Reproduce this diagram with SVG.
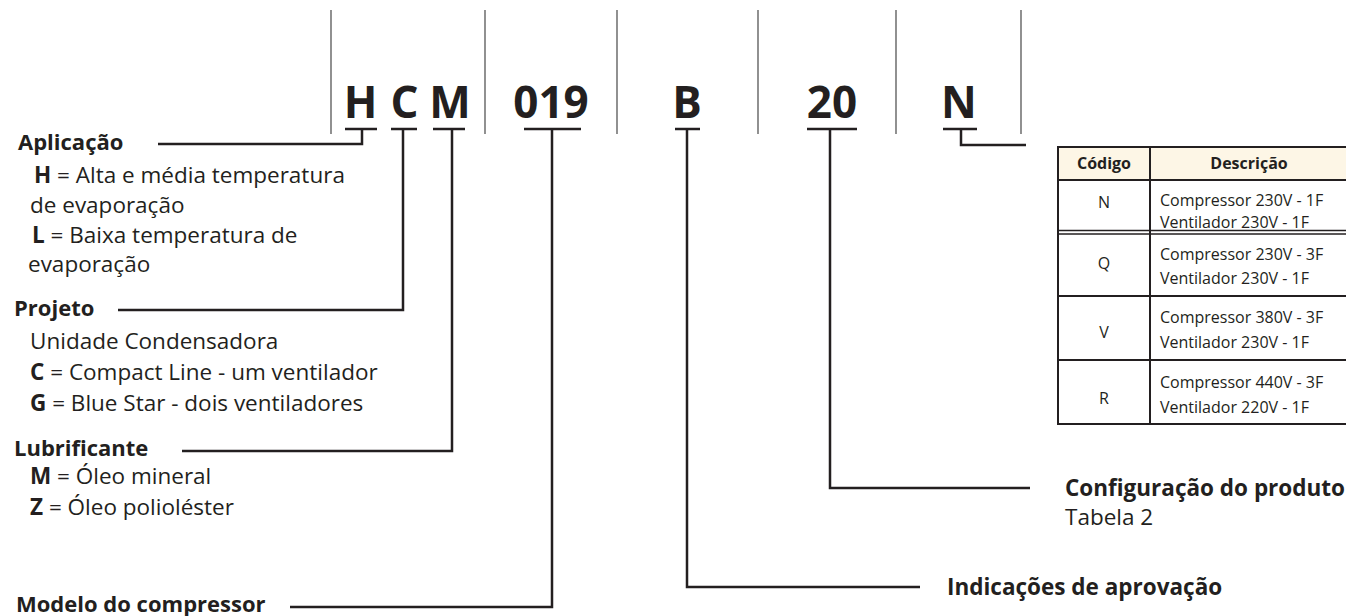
<svg xmlns="http://www.w3.org/2000/svg" width="1346" height="616" viewBox="0 0 1346 616">
<style>
.code{font-family:"Open Sans","Liberation Sans",sans-serif;font-weight:700;font-size:44px;fill:#231f20;text-anchor:middle}
.t{font-family:"Open Sans","Liberation Sans",sans-serif;font-size:22.5px;fill:#231f20}
.b{font-weight:700}
.h{font-size:22px}
.tt{font-family:"Open Sans","Liberation Sans",sans-serif;font-size:16px;fill:#231f20}
.tc{text-anchor:middle}
.th{font-family:"Open Sans","Liberation Sans",sans-serif;font-size:16px;font-weight:700;fill:#231f20;text-anchor:middle}
.sep{stroke:#555;stroke-width:1.3;fill:none}
.ul{stroke:#231f20;stroke-width:2.5;fill:none}
.con{stroke:#231f20;stroke-width:2.5;fill:none}
.tb{stroke:#231f20;stroke-width:2;fill:none}
</style>
<rect width="1346" height="616" fill="#fff"/>
<g id="separators">
<line class="sep" x1="331" y1="10" x2="331" y2="134"/>
<line class="sep" x1="485" y1="10" x2="485" y2="134"/>
<line class="sep" x1="617" y1="10" x2="617" y2="134"/>
<line class="sep" x1="758" y1="10" x2="758" y2="134"/>
<line class="sep" x1="896" y1="10" x2="896" y2="134"/>
<line class="sep" x1="1021" y1="10" x2="1021" y2="134"/>
</g>
<g id="code">
<text class="code" x="360.5" y="118">H</text>
<text class="code" x="404.5" y="118">C</text>
<text class="code" x="450" y="118">M</text>
<text class="code" x="551" y="118">019</text>
<text class="code" x="687" y="118">B</text>
<text class="code" x="832" y="118">20</text>
<text class="code" x="959" y="118">N</text>
<line class="ul" x1="345" y1="129" x2="377" y2="129"/>
<line class="ul" x1="391" y1="129" x2="417" y2="129"/>
<line class="ul" x1="433" y1="129" x2="465" y2="129"/>
<line class="ul" x1="524" y1="129" x2="581" y2="129"/>
<line class="ul" x1="675" y1="129" x2="700" y2="129"/>
<line class="ul" x1="807" y1="129" x2="857" y2="129"/>
<line class="ul" x1="943" y1="129" x2="977" y2="129"/>
</g>
<g id="connectors">
<polyline class="con" points="158,144 362,144 362,129"/>
<polyline class="con" points="118,310 403,310 403,129"/>
<polyline class="con" points="182,451 452,451 452,129"/>
<polyline class="con" points="290,607 552,607 552,129"/>
<polyline class="con" points="920,587 687,587 687,129"/>
<polyline class="con" points="1030,488 830,488 830,129"/>
<polyline class="con" points="961,129 961,145 1026,145"/>
</g>
<g id="aplicacao">
<text class="t b h" x="18" y="150">Aplicação</text>
<text class="t" x="34" y="183"><tspan class="b">H</tspan> = Alta e média temperatura</text>
<text class="t" x="30" y="213">de evaporação</text>
<text class="t" x="32" y="243"><tspan class="b">L</tspan> = Baixa temperatura de</text>
<text class="t" x="28" y="272">evaporação</text>
</g>
<g id="projeto">
<text class="t b h" x="14" y="316">Projeto</text>
<text class="t" x="30" y="349">Unidade Condensadora</text>
<text class="t" x="30" y="380"><tspan class="b">C</tspan> = Compact Line - um ventilador</text>
<text class="t" x="30" y="411"><tspan class="b">G</tspan> = Blue Star - dois ventiladores</text>
</g>
<g id="lubrificante">
<text class="t b h" x="14" y="456">Lubrificante</text>
<text class="t" x="30" y="484"><tspan class="b">M</tspan> = Óleo mineral</text>
<text class="t" x="30" y="515"><tspan class="b">Z</tspan> = Óleo polioléster</text>
</g>
<g id="modelo">
<text class="t b h" x="16" y="612">Modelo do compressor</text>
</g>
<g id="configuracao">
<text class="t b" x="1065" y="496" font-size="24">Configuração do produto</text>
<text class="t" x="1065" y="525">Tabela 2</text>
</g>
<g id="indicacoes">
<text class="t b" x="947" y="595" font-size="24">Indicações de aprovação</text>
</g>
<g id="tabela">
<rect x="1058" y="147" width="300" height="33" fill="#fdf6e6"/>
<rect class="tb" x="1058" y="147" width="300" height="277"/>
<line class="tb" x1="1058" y1="180" x2="1358" y2="180"/>
<line stroke="#231f20" stroke-width="1.5" x1="1058" y1="230.5" x2="1358" y2="230.5"/>
<line stroke="#231f20" stroke-width="1.5" x1="1058" y1="234" x2="1358" y2="234"/>
<line class="tb" x1="1058" y1="296" x2="1358" y2="296"/>
<line class="tb" x1="1058" y1="360" x2="1358" y2="360"/>
<line class="tb" x1="1150" y1="147" x2="1150" y2="424"/>
<text class="th" x="1104" y="169">Código</text>
<text class="th" x="1249" y="169">Descrição</text>
<text class="tt tc" x="1104" y="208">N</text>
<text class="tt" x="1160" y="206">Compressor 230V - 1F</text>
<text class="tt" x="1160" y="228">Ventilador 230V - 1F</text>
<text class="tt tc" x="1104" y="269">Q</text>
<text class="tt" x="1160" y="260">Compressor 230V - 3F</text>
<text class="tt" x="1160" y="284">Ventilador 230V - 1F</text>
<text class="tt tc" x="1104" y="338">V</text>
<text class="tt" x="1160" y="323">Compressor 380V - 3F</text>
<text class="tt" x="1160" y="348">Ventilador 230V - 1F</text>
<text class="tt tc" x="1104" y="404">R</text>
<text class="tt" x="1160" y="388">Compressor 440V - 3F</text>
<text class="tt" x="1160" y="413">Ventilador 220V - 1F</text>
</g>
</svg>
